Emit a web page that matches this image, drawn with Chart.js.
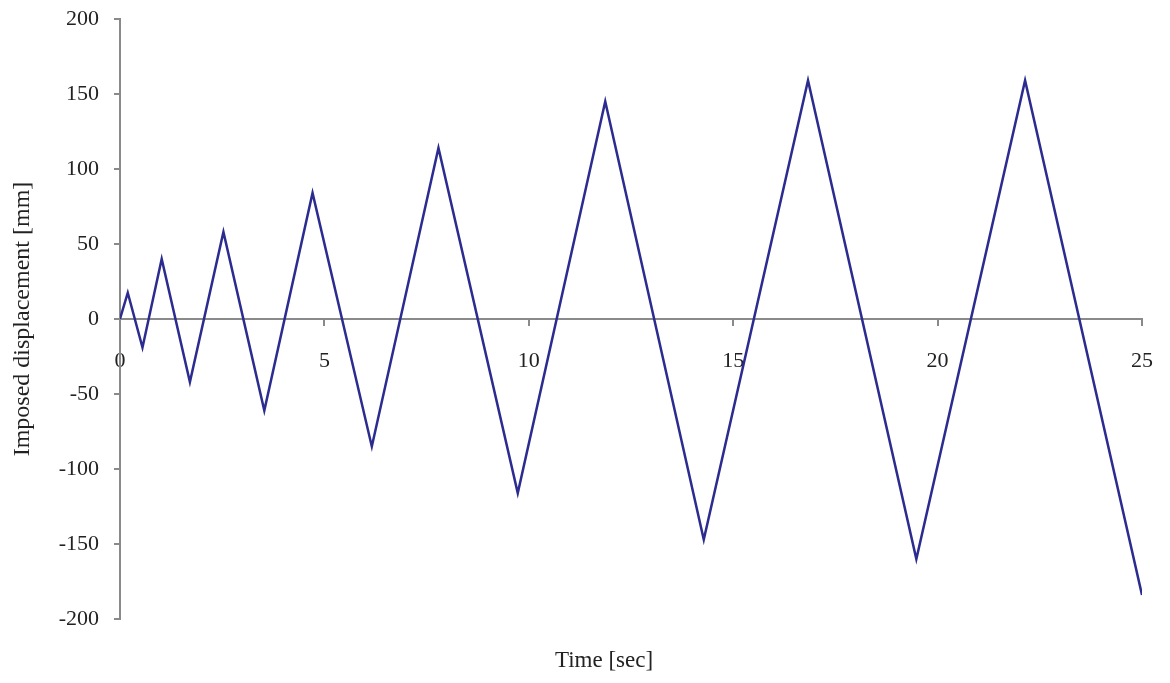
<!DOCTYPE html>
<html>
<head>
<meta charset="utf-8">
<script src="https://cdn.jsdelivr.net/npm/chart.js@4/dist/chart.umd.min.js"></script>
<style>
  html, body { margin: 0; padding: 0; background: #fff; }
  canvas { display: block; }
</style>
</head>
<body>
<canvas id="chart" width="1170" height="683"></canvas>
<script>
/* imposed displacement history: turning points of the triangular signal */
const timeSec = [0, 0.19, 0.55, 1.02, 1.71, 2.53, 3.53, 4.71, 6.16, 7.79, 9.73, 11.87, 14.28, 16.83, 19.48, 22.14, 25];
const displacementMm = [0, 17.5, -19, 40, -42, 58, -61, 84, -85, 114, -116, 145, -147, 159, -160, 159, -184];

const X_TITLE = 'Time [sec]';
const Y_TITLE = 'Imposed displacement [mm]';

const STYLE = {
  line:  '#2b2b90',
  axis:  '#8a8a8a',
  text:  '#222',
  font:  "'Liberation Serif', 'Times New Roman', serif"
};

const points = timeSec.map((t, i) => ({ x: t, y: displacementMm[i] }));

// x-axis title sits at the bottom of the canvas, slightly left of the plot centre
const xTitlePlugin = {
  id: 'xTitle',
  afterDraw(chart) {
    const { ctx, chartArea } = chart;
    ctx.save();
    ctx.font = '23px ' + STYLE.font;
    ctx.fillStyle = STYLE.text;
    ctx.textAlign = 'center';
    ctx.textBaseline = 'alphabetic';
    ctx.fillText(X_TITLE, (chartArea.left + chartArea.right) / 2 - 27, chartArea.bottom + 48);
    ctx.restore();
  }
};

new Chart(document.getElementById('chart').getContext('2d'), {
  type: 'line',
  data: {
    datasets: [{
      data: points,
      borderColor: STYLE.line,
      borderWidth: 2.5,
      pointRadius: 0,
      tension: 0,
      fill: false
    }]
  },
  options: {
    responsive: false,
    animation: false,
    layout: { padding: { top: 19, right: 28, bottom: 64, left: 0 } },
    plugins: {
      legend:  { display: false },
      tooltip: { enabled: false }
    },
    scales: {
      x: {
        type: 'linear',
        min: 0, max: 25,
        position: { y: 0 },
        ticks: { stepSize: 5, padding: 23, color: STYLE.text, font: { family: STYLE.font, size: 22 } },
        grid:  { drawOnChartArea: false, drawTicks: true, tickLength: 6, color: STYLE.axis, lineWidth: 2 },
        border: { color: STYLE.axis, width: 2 },
        afterFit(scale) {
          scale.paddingLeft = 0;
          scale.paddingRight = 0;
        }
      },
      y: {
        type: 'linear',
        min: -200, max: 200,
        ticks: { stepSize: 50, padding: 15, color: STYLE.text, font: { family: STYLE.font, size: 22 } },
        grid:  { drawOnChartArea: false, drawTicks: true, tickLength: 6, color: STYLE.axis, lineWidth: 2 },
        border: { color: STYLE.axis, width: 2 },
        title: {
          display: true,
          text: Y_TITLE,
          color: STYLE.text,
          padding: { top: 8, bottom: 4 },
          font: { family: STYLE.font, size: 24 }
        },
        afterFit(scale) {
          scale.width = 120;
          scale.paddingTop = 0;
          scale.paddingBottom = 0;
        }
      }
    }
  },
  plugins: [xTitlePlugin]
});
</script>
</body>
</html>
